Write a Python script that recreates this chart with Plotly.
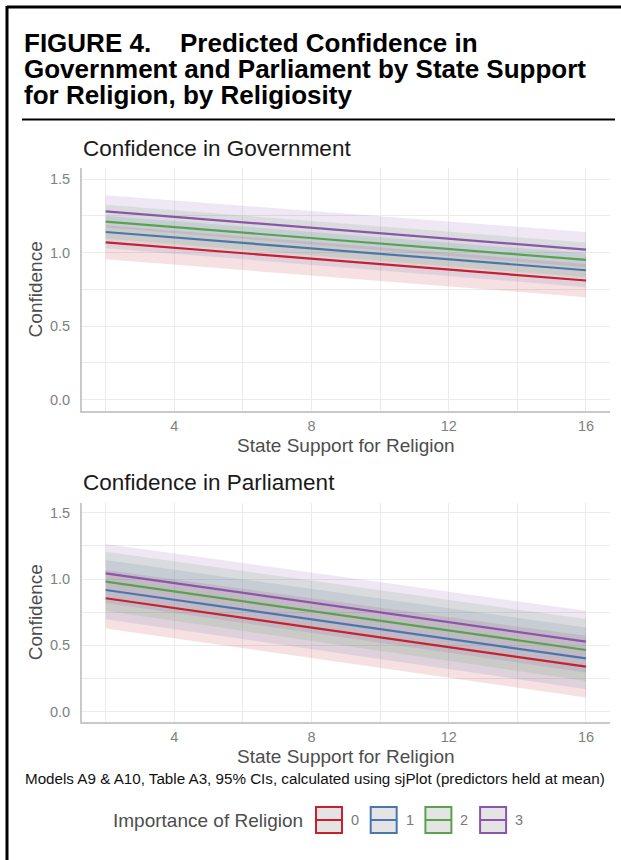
import plotly.graph_objects as go

# ---- data -----------------------------------------------------------------
state_support = [2, 16]
religion_levels = ["0", "1", "2", "3"]
series_colors = ["#c8202f", "#4a76b0", "#58a34c", "#8b55ab"]

gov_fit = [[1.07, 0.81], [1.14, 0.88], [1.21, 0.95], [1.28, 1.02]]
gov_low = [[0.955, 0.697], [1.03, 0.765], [1.095, 0.832], [1.172, 0.90]]
gov_high = [[1.185, 0.923], [1.25, 0.995], [1.325, 1.068], [1.39, 1.14]]

parl_fit = [[0.855, 0.34], [0.917, 0.402], [0.98, 0.465], [1.043, 0.528]]
parl_low = [[0.628, 0.108], [0.697, 0.17], [0.76, 0.232], [0.82, 0.295]]
parl_high = [[1.068, 0.572], [1.143, 0.635], [1.206, 0.698], [1.264, 0.761]]

x_ticks = [4, 8, 12, 16]
x_minor = [2, 6, 10, 14]
y_ticks = [0, 0.5, 1.0, 1.5]
y_ticktext = ["0.0", "0.5", "1.0", "1.5"]
y_minor = [0.25, 0.75, 1.25]

W, H = 621, 860
FONT = "Liberation Sans, Arial, Helvetica, sans-serif"


def px(x):
    return x / W


def py(y):
    return 1 - y / H


def rgba(hex_color, a):
    h = hex_color.lstrip("#")
    r, g, b = int(h[0:2], 16), int(h[2:4], 16), int(h[4:6], 16)
    return f"rgba({r},{g},{b},{a})"


fig = go.Figure()

panels = [
    ("x", "y", gov_fit, gov_low, gov_high),
    ("x2", "y2", parl_fit, parl_low, parl_high),
]

for xa, ya, fit, low, high in panels:
    # confidence ribbons
    for i, col in enumerate(series_colors):
        fig.add_trace(go.Scatter(
            x=state_support + state_support[::-1],
            y=high[i] + low[i][::-1],
            fill="toself", fillcolor=rgba(col, 0.14),
            line=dict(width=0), mode="lines", hoverinfo="skip",
            showlegend=False, xaxis=xa, yaxis=ya,
        ))
    # predicted lines
    for i, col in enumerate(series_colors):
        fig.add_trace(go.Scatter(
            x=state_support, y=fit[i], mode="lines",
            line=dict(color=col, width=2.2),
            name=religion_levels[i], showlegend=False,
            xaxis=xa, yaxis=ya,
        ))

grid_col = "#ebebeb"
axis_col = "#c9c9c9"

xaxis_common = dict(
    range=[1.3, 16.7], tickvals=x_ticks, showgrid=True, gridcolor=grid_col,
    gridwidth=1, zeroline=False, showline=True, linecolor=axis_col,
    linewidth=1.5, ticks="", ticklabelstandoff=1,
    tickfont=dict(size=14.5, color="#808080", family=FONT),
    minor=dict(tickvals=x_minor, showgrid=True, gridcolor=grid_col, gridwidth=1),
    title=dict(text="State Support for Religion",
               font=dict(size=19, color="#4d4d4d", family=FONT), standoff=6),
    automargin=False, fixedrange=True,
)
yaxis_common = dict(
    range=[-0.075, 1.575], tickvals=y_ticks, ticktext=y_ticktext,
    showgrid=True, gridcolor=grid_col, gridwidth=1, zeroline=False,
    showline=True, linecolor=axis_col, linewidth=1.5, ticks="",
    ticklabelstandoff=7,
    tickfont=dict(size=14.5, color="#808080", family=FONT),
    minor=dict(tickvals=y_minor, showgrid=True, gridcolor=grid_col, gridwidth=1),
    title=dict(text="Confidence",
               font=dict(size=19, color="#4d4d4d", family=FONT), standoff=2),
    automargin=False, fixedrange=True,
)

x_dom = [px(81.7), px(610)]
fig.update_layout(
    width=W, height=H, autosize=False,
    margin=dict(l=0, r=0, t=0, b=0),
    paper_bgcolor="white", plot_bgcolor="white",
    font=dict(family=FONT),
    showlegend=False,
    xaxis=dict(xaxis_common, domain=x_dom, anchor="y"),
    yaxis=dict(yaxis_common, domain=[py(410.7), py(168)], anchor="x"),
    xaxis2=dict(xaxis_common, domain=x_dom, anchor="y2"),
    yaxis2=dict(yaxis_common, domain=[py(721.7), py(502.7)], anchor="x2"),
)

annotations = []
shapes = []

# heading
heading_lines = [
    "FIGURE 4.\u00a0\u00a0\u00a0 Predicted Confidence in",
    "Government and Parliament by State Support",
    "for Religion, by Religiosity",
]
for k, line in enumerate(heading_lines):
    annotations.append(dict(
        text=f"<b>{line}</b>", x=px(22), y=py(43 + 26 * k),
        xref="paper", yref="paper", xanchor="left", yanchor="middle",
        showarrow=False, font=dict(size=26, color="#000000", family=FONT),
    ))

# frame and heading rule
shapes.append(dict(type="line", xref="paper", yref="paper",
                   x0=px(7), x1=1, y0=py(7), y1=py(7),
                   line=dict(color="black", width=3)))
shapes.append(dict(type="line", xref="paper", yref="paper",
                   x0=px(7), x1=px(7), y0=py(6), y1=0,
                   line=dict(color="black", width=3)))
shapes.append(dict(type="line", xref="paper", yref="paper",
                   x0=px(22), x1=px(615), y0=py(119.5), y1=py(119.5),
                   line=dict(color="black", width=2)))

# panel titles
for txt, yc in [("Confidence in Government", 149), ("Confidence in Parliament", 482)]:
    annotations.append(dict(
        text=txt, x=px(81), y=py(yc), xref="paper", yref="paper",
        xanchor="left", yanchor="middle", showarrow=False,
        font=dict(size=22.5, color="#1a1a1a", family=FONT),
    ))

# caption
annotations.append(dict(
    text="Models A9 & A10, Table A3, 95% CIs, calculated using sjPlot (predictors held at mean)",
    x=px(315), y=py(778), xref="paper", yref="paper",
    xanchor="center", yanchor="middle", showarrow=False,
    font=dict(size=15.2, color="#111111", family=FONT),
))

# legend
leg_y = 820
annotations.append(dict(
    text="Importance of Religion", x=px(305), y=py(leg_y),
    xref="paper", yref="paper", xanchor="right", yanchor="middle",
    showarrow=False, font=dict(size=19, color="#4d4d4d", family=FONT),
))
box_left0, box_step, box_w, box_h = 316, 54.7, 26, 26
for i, (lvl, col) in enumerate(zip(religion_levels, series_colors)):
    bx0 = box_left0 + i * box_step
    bx1 = bx0 + box_w
    shapes.append(dict(type="rect", xref="paper", yref="paper",
                       x0=px(bx0), x1=px(bx1),
                       y0=py(leg_y + box_h / 2), y1=py(leg_y - box_h / 2),
                       fillcolor="#e4e4e4", line=dict(color=col, width=2)))
    shapes.append(dict(type="line", xref="paper", yref="paper",
                       x0=px(bx0), x1=px(bx1), y0=py(leg_y), y1=py(leg_y),
                       line=dict(color=col, width=2)))
    annotations.append(dict(
        text=lvl, x=px(bx1 + 13), y=py(leg_y), xref="paper", yref="paper",
        xanchor="center", yanchor="middle", showarrow=False,
        font=dict(size=14.5, color="#7a7a7a", family=FONT),
    ))

fig.update_layout(annotations=annotations, shapes=shapes)

fig.write_html("out.html")
